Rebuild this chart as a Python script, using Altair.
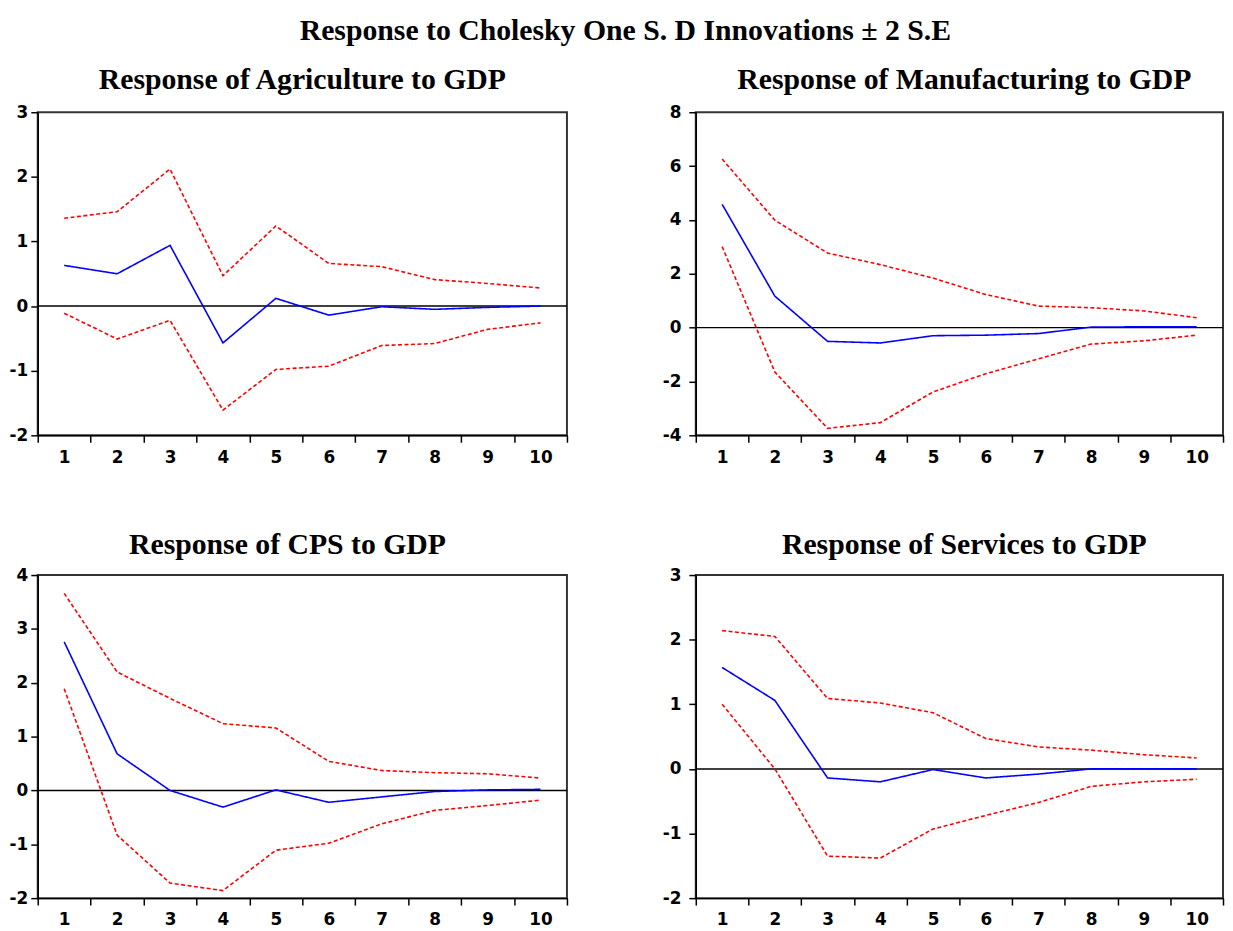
import altair as alt
import pandas as pd

steps = [1, 2, 3, 4, 5, 6, 7, 8, 9, 10]

agri_resp = [0.63, 0.50, 0.94, -0.57, 0.12, -0.14, -0.01, -0.05, -0.02, 0.00]
agri_up = [1.36, 1.46, 2.12, 0.47, 1.24, 0.66, 0.61, 0.41, 0.35, 0.28]
agri_lo = [-0.11, -0.51, -0.22, -1.61, -0.98, -0.93, -0.61, -0.58, -0.36, -0.26]

manu_resp = [4.58, 1.17, -0.51, -0.57, -0.30, -0.28, -0.22, 0.02, 0.03, 0.03]
manu_up = [6.26, 3.99, 2.77, 2.34, 1.84, 1.23, 0.80, 0.74, 0.62, 0.37]
manu_lo = [3.01, -1.65, -3.74, -3.53, -2.39, -1.71, -1.16, -0.61, -0.49, -0.28]

cps_resp = [2.76, 0.68, 0.00, -0.31, 0.01, -0.22, -0.12, -0.02, 0.01, 0.02]
cps_up = [3.66, 2.20, 1.71, 1.24, 1.16, 0.54, 0.37, 0.33, 0.31, 0.23]
cps_lo = [1.89, -0.83, -1.72, -1.86, -1.11, -0.98, -0.62, -0.37, -0.28, -0.18]

serv_resp = [1.57, 1.06, -0.14, -0.20, -0.01, -0.14, -0.08, 0.00, 0.00, 0.00]
serv_up = [2.14, 2.05, 1.09, 1.02, 0.87, 0.47, 0.34, 0.29, 0.22, 0.17]
serv_lo = [1.00, 0.00, -1.35, -1.38, -0.93, -0.72, -0.52, -0.27, -0.20, -0.16]

x_tick_values = [0.5, 1, 1.5, 2, 2.5, 3, 3.5, 4, 4.5, 5, 5.5, 6, 6.5, 7, 7.5,
                 8, 8.5, 9, 9.5, 10, 10.5]

main_title = "Response to Cholesky One S. D Innovations \u00b1 2 S.E"

SERIES = ["Response", "Upper", "Lower"]


def panel(title, resp, up, lo, ydom, yvals, left, width, title_offset, title_dx):
    rows = []
    for name, vals in zip(SERIES, [resp, up, lo]):
        for s, v in zip(steps, vals):
            rows.append({"step": s, "series": name, "value": v})
    df = pd.DataFrame(rows)

    xaxis = alt.Axis(
        values=x_tick_values,
        labelExpr="datum.value % 1 === 0 ? '' + datum.value : ''",
        tickOpacity={"condition": {"test": "datum.value % 1 === 0", "value": 0}, "value": 1},
        labelOverlap=False,
        title=None,
        grid=False,
        tickSize=7,
        labelPadding=7,
    )
    yaxis = alt.Axis(
        values=yvals,
        labelExpr="'' + datum.value",
        labelOverlap=False,
        title=None,
        grid=False,
        tickSize=7,
        labelPadding=3 if left else 8,
    )
    xs = alt.Scale(domain=[0.5, 10.5], nice=False, zero=False)
    ys = alt.Scale(domain=ydom, nice=False, zero=False)

    zero = alt.Chart(pd.DataFrame({"step": [1], "value": [0]})).mark_rule(
        color="black", strokeWidth=1.5
    ).encode(y=alt.Y("value:Q", scale=ys, axis=yaxis))

    lines = alt.Chart(df).mark_line(strokeWidth=1.6).encode(
        x=alt.X("step:Q", scale=xs, axis=xaxis),
        y=alt.Y("value:Q", scale=ys, axis=yaxis),
        color=alt.Color(
            "series:N",
            scale=alt.Scale(domain=SERIES, range=["#0000ff", "#ff0000", "#ff0000"]),
            legend=None,
        ),
        strokeDash=alt.StrokeDash(
            "series:N",
            scale=alt.Scale(domain=SERIES, range=[[1, 0], [4, 2.5], [4, 2.5]]),
            legend=None,
        ),
    )
    return alt.layer(zero, lines).properties(
        width=width,
        height=326,
        title=alt.TitleParams(
            text=title,
            font="Liberation Serif",
            fontSize=30,
            fontWeight="bold",
            color="black",
            offset=title_offset,
            dx=title_dx,
        ),
    )


tl = panel("Response of Agriculture to GDP", agri_resp, agri_up, agri_lo,
           [-2, 3], [-2, -1, 0, 1, 2, 3], True, 534, 8, 0)
tr = panel("Response of Manufacturing to GDP", manu_resp, manu_up, manu_lo,
           [-4, 8], [-4, -2, 0, 2, 4, 6, 8], False, 532, 8, 5)
bl = panel("Response of CPS to GDP", cps_resp, cps_up, cps_lo,
           [-2, 4], [-2, -1, 0, 1, 2, 3, 4], True, 534, 6, -15)
br = panel("Response of Services to GDP", serv_resp, serv_up, serv_lo,
           [-2, 3], [-2, -1, 0, 1, 2, 3], False, 532, 6, 5)

chart = alt.vconcat(
    alt.hconcat(tl, tr, spacing=93),
    alt.hconcat(bl, br, spacing=93),
    spacing=64,
).properties(
    title=alt.TitleParams(
        text=main_title,
        font="Liberation Serif",
        fontSize=30,
        fontWeight="bold",
        color="black",
        offset=19,
        dx=9,
        anchor="middle",
    ),
    padding={"left": 0, "top": 4, "right": 0, "bottom": 0},
).configure_view(
    stroke="#333333", strokeWidth=2
).configure_axis(
    labelFont="DejaVu Sans",
    labelFontWeight="bold",
    labelFontSize=17,
    labelColor="black",
    tickColor="black",
    tickWidth=1.5,
    domainColor="black",
    domainWidth=1.5,
)

chart.save("out.html", embed_options={"renderer": "svg", "actions": False})
